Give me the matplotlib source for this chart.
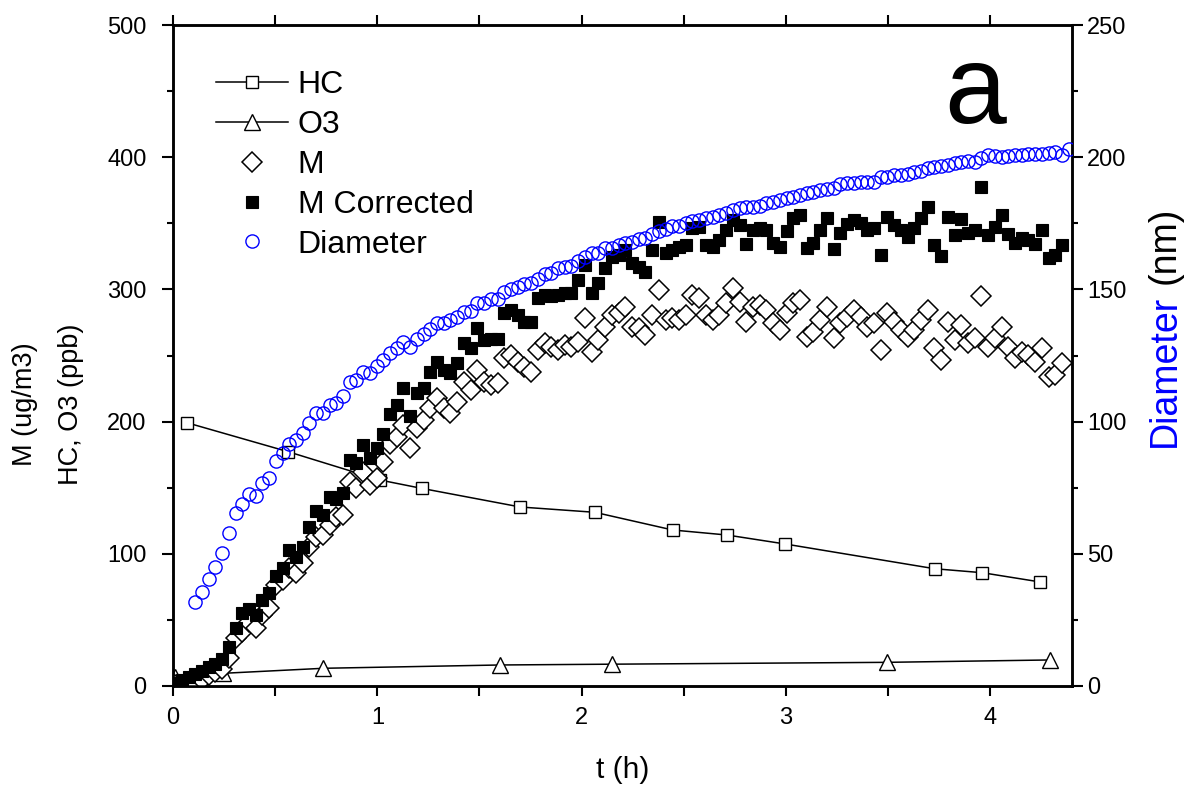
import matplotlib
matplotlib.use("Agg")
import matplotlib.pyplot as plt
from matplotlib.ticker import MultipleLocator
from matplotlib.lines import Line2D

plt.rcParams['font.family'] = ['Liberation Sans', 'DejaVu Sans']

# ---- data -------------------------------------------------------------
# gas-phase measurements
t_hc = [0.067, 0.564, 1.013, 1.217, 1.700, 2.064, 2.446, 2.712, 2.997, 3.728, 3.961, 4.244]
hc = [199.2, 177.2, 155.8, 149.5, 135.4, 131.4, 118.0, 114.2, 107.4, 88.7, 85.7, 78.7]

t_o3 = [0.010, 0.246, 0.736, 1.601, 2.147, 3.493, 4.293]
o3 = [7.0, 9.6, 13.4, 15.9, 16.5, 17.9, 19.7]

# particle-phase scans (common time base)
t_smps = [
    0.010, 0.043, 0.076, 0.109, 0.141, 0.174, 0.207, 0.240, 0.273, 0.306,
    0.339, 0.372, 0.404, 0.437, 0.470, 0.503, 0.536, 0.569, 0.602, 0.635,
    0.668, 0.700, 0.733, 0.766, 0.799, 0.832, 0.865, 0.898, 0.931, 0.964,
    0.997, 1.029, 1.062, 1.095, 1.128, 1.161, 1.194, 1.227, 1.260, 1.293,
    1.325, 1.358, 1.391, 1.424, 1.457, 1.490, 1.523, 1.556, 1.589, 1.621,
    1.654, 1.687, 1.720, 1.753, 1.786, 1.819, 1.852, 1.885, 1.918, 1.950,
    1.983, 2.016, 2.049, 2.082, 2.115, 2.148, 2.181, 2.214, 2.246, 2.279,
    2.312, 2.345, 2.378, 2.411, 2.444, 2.477, 2.510, 2.542, 2.575, 2.608,
    2.641, 2.674, 2.707, 2.740, 2.773, 2.806, 2.838, 2.871, 2.904, 2.937,
    2.970, 3.003, 3.036, 3.069, 3.102, 3.134, 3.167, 3.200, 3.233, 3.266,
    3.299, 3.332, 3.365, 3.398, 3.430, 3.463, 3.496, 3.529, 3.562, 3.595,
    3.628, 3.661, 3.693, 3.726, 3.759, 3.792, 3.825, 3.858, 3.891, 3.924,
    3.957, 3.989, 4.022, 4.055, 4.088, 4.121, 4.154, 4.187, 4.220, 4.253,
    4.285, 4.318, 4.351, 4.384,
]

m_raw = [
    0.5, 0.5, 0.5, 0.5, 4.5, 8.3, 10.6, 12.9, 21.0, 36.1,
    41.1, 48.6, 43.6, 53.7, 58.8, 76.4, 80.2, 89.0, 85.2, 92.8,
    105.4, 112.9, 114.2, 121.8, 128.1, 129.3, 154.5, 149.5, 162.1, 152.0,
    157.1, 169.7, 183.1, 188.6, 197.4, 179.8, 194.9, 201.2, 210.1, 217.6,
    210.1, 206.3, 215.1, 230.2, 223.9, 239.0, 230.2, 227.7, 229.0, 247.9,
    250.4, 245.3, 241.5, 237.7, 254.2, 259.2, 256.7, 254.2, 257.9, 256.7,
    260.4, 278.1, 252.9, 261.7, 271.8, 280.6, 282.0, 286.9, 271.8, 270.6,
    265.5, 280.6, 299.5, 276.9, 278.1, 276.9, 280.6, 295.8, 293.3, 280.6,
    276.9, 280.6, 289.5, 300.8, 290.7, 275.6, 287.0, 288.2, 284.4, 274.4,
    269.3, 281.9, 289.5, 292.0, 264.2, 268.0, 276.9, 287.0, 263.0, 274.4,
    279.3, 284.4, 279.3, 271.8, 274.4, 254.2, 281.9, 275.6, 269.3, 264.2,
    269.3, 276.9, 284.4, 255.4, 246.6, 275.6, 261.7, 273.1, 259.2, 263.0,
    295.2, 256.7, 263.0, 271.8, 256.7, 247.9, 252.9, 250.4, 245.3, 255.4,
    234.0, 235.3, 244.1,
]

m_corr = [
    2.0, 4.5, 6.8, 9.1, 11.3, 14.4, 16.6, 20.4, 29.3, 43.6,
    55.0, 58.0, 53.7, 65.1, 70.1, 83.2, 89.0, 102.9, 97.4, 105.4,
    120.5, 132.4, 129.4, 142.7, 141.2, 146.2, 171.0, 168.5, 182.3, 172.8,
    180.4, 190.6, 205.8, 212.6, 225.2, 204.2, 221.4, 225.2, 237.7, 245.3,
    239.0, 236.5, 244.1, 259.2, 255.4, 270.6, 261.7, 262.3, 262.3, 281.9,
    284.4, 280.6, 275.6, 275.6, 293.3, 295.8, 295.0, 295.8, 297.0, 297.0,
    307.1, 318.5, 297.0, 304.6, 316.0, 324.7, 326.0, 329.8, 319.7, 317.2,
    313.4, 329.8, 351.2, 327.3, 329.8, 332.3, 333.6, 346.4, 347.4, 333.6,
    332.3, 337.4, 344.9, 352.5, 348.7, 334.1, 344.9, 346.2, 344.9, 334.9,
    332.3, 344.2, 353.8, 356.3, 331.1, 334.9, 344.9, 353.8, 330.3, 342.4,
    349.2, 352.5, 350.0, 344.9, 346.2, 326.0, 354.5, 348.7, 344.9, 339.9,
    346.2, 353.8, 362.1, 333.6, 325.3, 355.0, 341.1, 353.0, 342.4, 344.9,
    377.7, 341.1, 347.4, 356.3, 341.9, 334.9, 338.7, 337.4, 334.3, 344.9,
    323.5, 326.0, 333.6,
]

# mean particle diameter (nm); first scan with a valid size is the 4th
diameter = [
    31.9, 35.7, 40.5, 45.1, 50.4, 58.0, 65.3, 69.0, 72.6, 71.9,
    76.9, 78.6, 85.2, 88.3, 91.5, 93.0, 95.5, 99.6, 103.1, 103.1,
    106.3, 107.0, 109.7, 115.1, 115.7, 118.9, 118.3, 121.1, 123.3, 125.8,
    127.7, 130.2, 128.3, 131.1, 133.1, 135.0, 137.2, 137.2, 138.4, 139.4,
    141.6, 141.9, 144.7, 144.7, 146.3, 146.4, 149.1, 150.0, 151.0, 151.9,
    152.3, 153.9, 155.7, 156.1, 158.0, 158.6, 158.9, 160.7, 162.4, 163.6,
    163.7, 165.5, 165.8, 166.8, 167.7, 168.0, 168.9, 169.3, 170.8, 172.1,
    172.7, 174.0, 174.0, 175.0, 175.9, 176.2, 177.1, 177.5, 178.1, 179.0,
    180.0, 180.7, 181.0, 181.3, 181.5, 182.6, 183.2, 183.8, 184.5, 185.1,
    185.7, 186.3, 187.0, 187.6, 187.9, 188.5, 189.7, 190.1, 190.2, 190.6,
    190.7, 190.7, 192.7, 192.6, 193.3, 193.3, 193.6, 194.5, 194.9, 195.8,
    196.2, 196.7, 197.0, 197.7, 198.3, 198.7, 198.3, 199.8, 200.8, 200.5,
    200.2, 200.5, 200.8, 200.8, 201.1, 201.1, 201.1, 201.5, 202.1, 200.8,
    203.0,
]
diam_start = 3

series_labels = ["HC", "O3", "M", "M Corrected", "Diameter"]

# ---- figure -----------------------------------------------------------
W, H = 1186, 787
fig = plt.figure(figsize=(W / 100, H / 100), dpi=100)
fig.patch.set_facecolor("white")

L, R, T, B = 173, 1072, 25, 686
ax = fig.add_axes([L / W, 1 - B / H, (R - L) / W, (B - T) / H])
ax2 = ax.twinx()

blue = (0, 0, 1)
sty_hc = dict(color="black", lw=1.1, marker="s", ms=8.5, mfc="white", mec="black", mew=1.0)
sty_o3 = dict(color="black", lw=1.1, marker="^", ms=12, mfc="white", mec="black", mew=1.0)
sty_m = dict(ls="none", marker="D", ms=10.5, mfc="white", mec="black", mew=1.1)
sty_mc = dict(ls="none", marker="s", ms=8.8, mfc="black", mec="black", mew=0.8)
sty_d = dict(ls="none", marker="o", ms=9.5, mfc="none", mec=blue, mew=1.0)

ax.plot(t_hc, hc, zorder=2, **sty_hc)
ax.plot(t_o3, o3, zorder=2, **sty_o3)
ax.plot(t_smps[:len(m_raw)], m_raw, zorder=3, **sty_m)
ax.plot(t_smps[:len(m_corr)], m_corr, zorder=4, **sty_mc)
ax2.plot(t_smps[diam_start:diam_start + len(diameter)], diameter, zorder=5, **sty_d)

ax.set_xlim(0, 4.4)
ax.set_ylim(0, 500)
ax2.set_ylim(0, 250)

for a in (ax, ax2):
    for s in a.spines.values():
        s.set_linewidth(1.8)

ax.xaxis.set_major_locator(MultipleLocator(1))
ax.xaxis.set_minor_locator(MultipleLocator(0.5))
ax.yaxis.set_major_locator(MultipleLocator(100))
ax.yaxis.set_minor_locator(MultipleLocator(50))
ax2.yaxis.set_major_locator(MultipleLocator(50))
ax2.yaxis.set_minor_locator(MultipleLocator(25))

ax.tick_params(axis="x", which="both", direction="out", top=True, bottom=True,
               length=7, width=1.5, labelsize=17, pad=8)
ax.tick_params(axis="y", which="major", direction="out", left=True, right=False,
               length=8, width=1.5, labelsize=17, pad=11)
ax.tick_params(axis="y", which="minor", direction="out", left=True, right=False,
               length=4.5, width=1.5)
ax2.tick_params(axis="y", which="major", direction="out", length=8, width=1.5,
                labelsize=17, pad=3)
ax2.tick_params(axis="y", which="minor", direction="out", length=4.5, width=1.5)

# panel letter
ax.text(3.925, 425.9, "a", fontsize=80, ha="center", va="baseline", zorder=6)

# legend
handles = [Line2D([], [], **s) for s in (sty_hc, sty_o3, sty_m, sty_mc, sty_d)]
ax2.legend(handles, series_labels, loc="upper left",
           bbox_to_anchor=((216 - L) / (R - L), (B - 70) / (B - T)),
           frameon=False, fontsize=23, handlelength=2.25, handletextpad=0.31,
           labelspacing=0.31, borderpad=0, borderaxespad=0, numpoints=1)

# axis titles
fig.text((L + R) / 2 / W, 1 - 770 / H, "t (h)", ha="center", va="center", fontsize=21.5)

ycen = 1 - 404 / H
fig.text(32 / W, ycen, "M (ug/m3)", rotation=90, rotation_mode="anchor",
         ha="center", va="baseline", fontsize=19.5)
fig.text(78 / W, ycen, "HC, O3 (ppb)", rotation=90, rotation_mode="anchor",
         ha="center", va="baseline", fontsize=19.5)

right_fs = 27
renderer = fig.canvas.get_renderer()
x_base = 1175 / W
y0 = 1 - 447 / H
t1 = fig.text(x_base, y0, "Diameter", rotation=90, rotation_mode="anchor",
              ha="left", va="baseline", fontsize=right_fs, color=blue)
ext = t1.get_window_extent(renderer)
gap = 0.28 * right_fs * 100 / 72
fig.text(x_base, y0 + (ext.height + gap) / H, "(nm)", rotation=90,
         rotation_mode="anchor", ha="left", va="baseline", fontsize=right_fs,
         color="black")

fig.savefig("out.png", dpi=100)
